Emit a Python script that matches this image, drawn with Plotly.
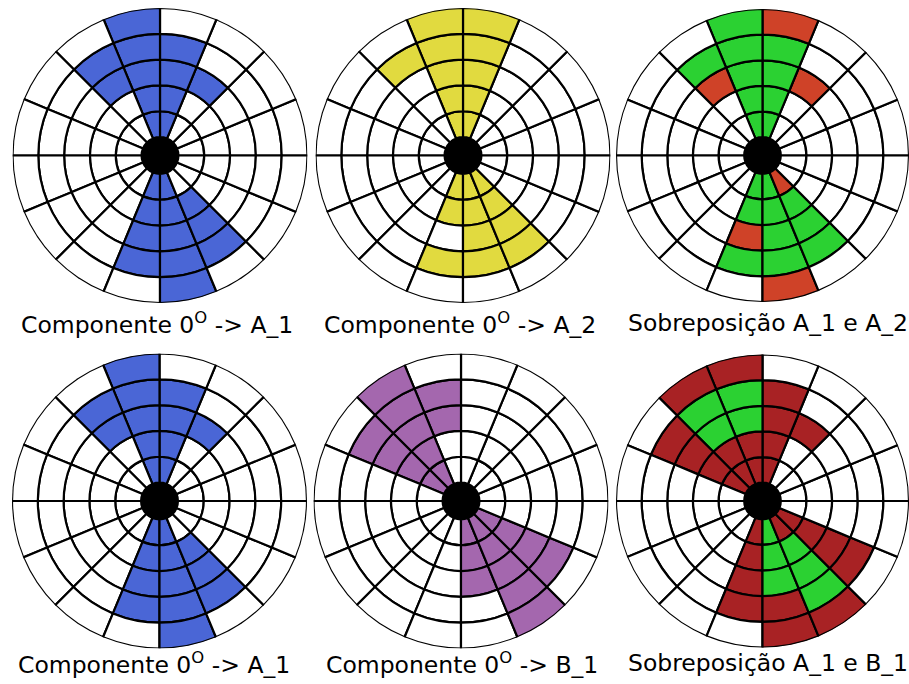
import plotly.graph_objects as go

# ---- data -------------------------------------------------------------
N_SECTORS = 16            # 22.5 degree sectors, counter-clockwise from east
N_RINGS = 5
SECTOR_DEG = 360 / N_SECTORS
HOLE = 0.714              # radius of the black centre, in ring units

# sector index -> filled rings (1 = innermost)
A_1 = {2: [3], 3: [1, 2, 3, 4], 4: [1, 2, 3, 4, 5], 5: [3, 4],
       11: [1, 2, 3, 4], 12: [1, 2, 3, 4, 5], 13: [2, 3, 4]}
A_2 = {3: [1, 2, 3, 4, 5], 4: [1, 2, 3, 4, 5], 5: [4],
       11: [1, 2, 4], 12: [1, 2, 3, 4], 13: [1, 2, 3, 4]}
B_1 = {4: [3, 4], 5: [1, 2, 3, 4, 5], 6: [1, 2, 3, 4],
       12: [1, 2, 3], 13: [1, 2, 3, 4, 5], 14: [1, 2, 3, 4]}

titles = ["Componente 0<sup>O</sup> -&gt; A_1", "Componente 0<sup>O</sup> -&gt; A_2",
          "Sobreposição A_1 e A_2",
          "Componente 0<sup>O</sup> -&gt; A_1", "Componente 0<sup>O</sup> -&gt; B_1",
          "Sobreposição A_1 e B_1"]

BLUE = "#4A66D6"
YELLOW = "#E1DA3F"
PURPLE = "#A467AE"
GREEN = "#2BD132"
RED = "#CF4228"
DARKRED = "#A82224"

# panel definitions: (kind, sets, colours)
panels = [
    ("single", [A_1], [BLUE]),
    ("single", [A_2], [YELLOW]),
    ("overlap", [A_1, A_2], [GREEN, RED]),
    ("single", [A_1], [BLUE]),
    ("single", [B_1], [PURPLE]),
    ("overlap", [A_1, B_1], [GREEN, DARKRED]),
]

W, H = 909, 684
# panel geometry in page pixels (centre x, centre y, radius)
geom = [(160, 155.5, 147.5), (463, 155.5, 147.5), (763, 155.5, 146.5),
        (159.5, 501, 147.5), (461, 501, 147.5), (763, 501, 146.5)]
title_pos = [(157, 323), (460, 323), (768, 323), (154, 663), (462, 663), (768, 663)]


def has(s, sec, ring):
    return ring in s.get(sec, [])


fig = go.Figure()
for i, ((kind, sets, cols), (cx, cy, rad)) in enumerate(zip(panels, geom)):
    thetas, bases, colors = [], [], []
    for sec in range(N_SECTORS):
        for ring in range(1, N_RINGS + 1):
            thetas.append(SECTOR_DEG / 2 + SECTOR_DEG * sec)
            bases.append(HOLE + ring - 1)
            if kind == "single":
                colors.append(cols[0] if has(sets[0], sec, ring) else "white")
            else:
                a, b = has(sets[0], sec, ring), has(sets[1], sec, ring)
                colors.append(cols[0] if (a and b) else (cols[1] if (a or b) else "white"))
    pid = "polar" if i == 0 else f"polar{i + 1}"
    fig.add_trace(go.Barpolar(
        r=[1] * len(thetas), base=bases, theta=thetas, width=SECTOR_DEG,
        marker=dict(color=colors, line=dict(color="black", width=2.2)),
        subplot=pid, hoverinfo="skip", showlegend=False))
    fig.add_trace(go.Barpolar(
        r=[HOLE], base=[0], theta=[180], width=360,
        marker=dict(color="black", line=dict(color="black", width=0)),
        subplot=pid, hoverinfo="skip", showlegend=False))
    x0, x1 = (cx - rad) / W, (cx + rad) / W
    if x1 > 1.0:
        x0, x1 = 1.0 - 2 * rad / W, 1.0
    y0, y1 = 1 - (cy + rad) / H, 1 - (cy - rad) / H
    if y1 > 1.0:
        y0, y1 = 1.0 - 2 * rad / H, 1.0
    fig.layout[pid] = dict(
        domain=dict(x=[max(x0, 0), x1], y=[max(y0, 0), y1]),
        bgcolor="white",
        radialaxis=dict(range=[0, HOLE + N_RINGS], visible=False),
        angularaxis=dict(visible=False, rotation=0, direction="counterclockwise"),
    )
    tx, ty = title_pos[i]
    fig.add_annotation(text=titles[i], x=tx / W, y=1 - ty / H,
                       xref="paper", yref="paper",
                       xanchor="center", yanchor="middle", showarrow=False,
                       font=dict(family="DejaVu Sans", size=23.5, color="black"))

fig.update_layout(width=W, height=H, margin=dict(l=0, r=0, t=0, b=0),
                  paper_bgcolor="white", plot_bgcolor="white")
fig.write_html("out.html",
               config={"displayModeBar": False, "staticPlot": True},
               post_script="document.body.style.margin='0px';"
                           "document.body.style.overflow='hidden';")
